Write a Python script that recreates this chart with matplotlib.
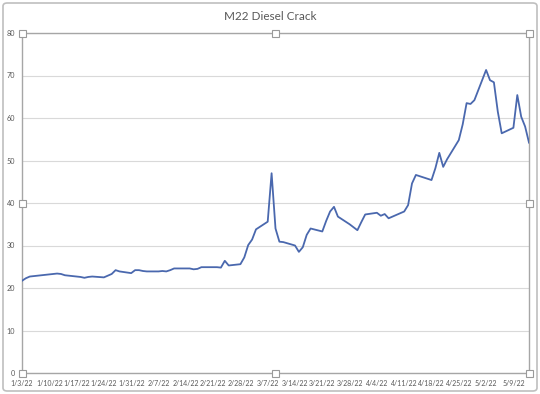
import matplotlib
matplotlib.use("Agg")
import matplotlib.pyplot as plt
from matplotlib.patches import Rectangle, FancyBboxPatch
import pandas as pd

title = "M22 Diesel Crack"

dates = [
    "2022-01-03", "2022-01-04", "2022-01-05", "2022-01-06", "2022-01-07",
    "2022-01-10", "2022-01-11", "2022-01-12", "2022-01-13", "2022-01-14",
    "2022-01-18", "2022-01-19", "2022-01-20", "2022-01-21",
    "2022-01-24", "2022-01-25", "2022-01-26", "2022-01-27", "2022-01-28",
    "2022-01-31", "2022-02-01", "2022-02-02", "2022-02-03", "2022-02-04",
    "2022-02-07", "2022-02-08", "2022-02-09", "2022-02-10", "2022-02-11",
    "2022-02-14", "2022-02-15", "2022-02-16", "2022-02-17", "2022-02-18",
    "2022-02-22", "2022-02-23", "2022-02-24", "2022-02-25",
    "2022-02-28", "2022-03-01", "2022-03-02", "2022-03-03", "2022-03-04",
    "2022-03-07", "2022-03-08", "2022-03-09", "2022-03-10", "2022-03-11",
    "2022-03-14", "2022-03-15", "2022-03-16", "2022-03-17", "2022-03-18",
    "2022-03-21", "2022-03-22", "2022-03-23", "2022-03-24", "2022-03-25",
    "2022-03-28", "2022-03-29", "2022-03-30", "2022-03-31", "2022-04-01",
    "2022-04-04", "2022-04-05", "2022-04-06", "2022-04-07", "2022-04-08",
    "2022-04-11", "2022-04-12", "2022-04-13", "2022-04-14",
    "2022-04-18", "2022-04-19", "2022-04-20", "2022-04-21", "2022-04-22",
    "2022-04-25", "2022-04-26", "2022-04-27", "2022-04-28", "2022-04-29",
    "2022-05-02", "2022-05-03", "2022-05-04", "2022-05-05", "2022-05-06",
    "2022-05-09", "2022-05-10", "2022-05-11", "2022-05-12", "2022-05-13",
]

values = [
    21.7, 22.3, 22.7, 22.8, 22.9,
    23.2, 23.3, 23.4, 23.3, 23.0,
    22.6, 22.4, 22.6, 22.7,
    22.5, 22.9, 23.3, 24.2, 23.9,
    23.5, 24.2, 24.2, 24.0, 23.9,
    23.9, 24.0, 23.9, 24.2, 24.6,
    24.6, 24.6, 24.4, 24.5, 24.9,
    24.9, 24.8, 26.4, 25.3,
    25.6, 27.2, 30.1, 31.4, 33.8,
    35.6, 47.0, 34.0, 30.9, 30.8,
    30.0, 28.5, 29.6, 32.5, 34.0,
    33.3, 35.8, 38.0, 39.1, 36.8,
    35.0, 34.3, 33.6, 35.5, 37.3,
    37.7, 37.0, 37.4, 36.4, 36.8,
    38.0, 39.5, 44.6, 46.6,
    45.4, 48.2, 51.8, 48.5, 50.3,
    54.8, 58.5, 63.5, 63.3, 64.2,
    71.3, 68.9, 68.4, 61.5, 56.4,
    57.7, 65.4, 60.3, 58.0, 54.2,
]

x_tick_dates = pd.date_range("2022-01-03", "2022-05-09", freq="7D")
x_tick_labels = [f"{d.month}/{d.day}/22" for d in x_tick_dates]
y_ticks = list(range(0, 81, 10))

plt.rcParams['font.family'] = ['Lato', 'DejaVu Sans']
tick_family = ['Liberation Sans Narrow', 'Lato', 'DejaVu Sans']

W, H = 540, 394
fig = plt.figure(figsize=(W / 100, H / 100), dpi=100)
fig.patch.set_facecolor("white")

L, R, T, B = 22, 529, 33, 373
ax = fig.add_axes([L / W, 1 - B / H, (R - L) / W, (B - T) / H])

x = pd.to_datetime(dates)
ax.plot(x, values, color="#4a68ae", lw=1.3, solid_joinstyle="round", zorder=3)

ax.set_xlim(pd.Timestamp("2022-01-03"), pd.Timestamp("2022-05-13"))
ax.set_ylim(0, 80)
ax.set_yticks(y_ticks)
ax.set_yticklabels([str(v) for v in y_ticks], family=tick_family, fontsize=5.2, color="#595959")
ax.set_xticks(x_tick_dates)
ax.set_xticklabels(x_tick_labels, family=tick_family, fontsize=5.0, color="#595959")
ax.tick_params(axis="both", length=0)
ax.tick_params(axis="y", pad=5)
ax.tick_params(axis="x", pad=5)
ax.grid(axis="y", color="#d9d9d9", lw=0.8, zorder=0)
ax.set_axisbelow(True)
for s in ax.spines.values():
    s.set_color("#a6a6a6")
    s.set_linewidth(1.0)

fig.text(0.5, 1 - 16 / H, title, ha="center", va="center", fontsize=8.5, color="#595959")

# outer chart-area selection frame
frame = FancyBboxPatch((3 / W, 3 / H), (W - 6) / W, (H - 6) / H,
                       boxstyle="round,pad=0,rounding_size=0.008",
                       transform=fig.transFigure, fill=False,
                       edgecolor="#bfbfbf", lw=1.2, zorder=1)
fig.add_artist(frame)

# plot-area handles
hs = 7
mx = (L + R) / 2
my = (T + B) / 2
for px, py in [(L, T), (mx, T), (R, T), (L, my), (R, my), (L, B), (mx, B), (R, B)]:
    fig.add_artist(Rectangle(((px - hs / 2) / W, 1 - (py + hs / 2) / H), hs / W, hs / H,
                             transform=fig.transFigure, facecolor="white",
                             edgecolor="#9a9a9a", lw=0.8, zorder=10))

fig.savefig("out.png", dpi=100)
